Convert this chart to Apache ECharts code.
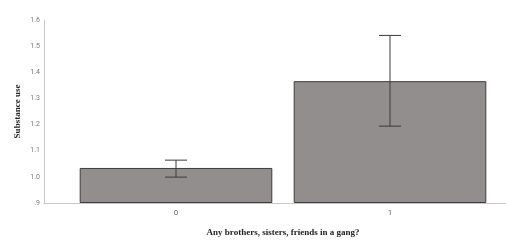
<!DOCTYPE html>
<html>
<head>
<meta charset="utf-8">
<script src="https://cdn.jsdelivr.net/npm/echarts@6/dist/echarts.min.js"></script>
<style>
  html, body { margin: 0; padding: 0; background: #fff; }
  #chart { width: 506px; height: 240px; }
</style>
</head>
<body>
<div id="chart"></div>
<script>
var categories = ['0', '1'];
var means = [1.034, 1.366];
var ciLow = [0.999, 1.194];
var ciHigh = [1.064, 1.541];

var chart = echarts.init(document.getElementById('chart'));

var errData = [];
for (var i = 0; i < categories.length; i++) {
  errData.push([i, ciLow[i], ciHigh[i]]);
}

var option = {
  backgroundColor: '#fff',
  animation: false,
  grid: [
    { left: 69, right: 9, top: 20, bottom: 37, outerBoundsMode: 'none' },
    { left: 44, right: 0, top: 20, bottom: 37, outerBoundsMode: 'none' }
  ],
  xAxis: [
    {
      type: 'category',
      data: categories,
      gridIndex: 0,
      axisLine: { show: false },
      axisTick: { show: false },
      axisLabel: { color: '#666', fontSize: 8, fontFamily: 'Roboto', margin: 6 },
      name: 'Any brothers, sisters, friends in a gang?',
      nameLocation: 'middle',
      nameGap: 25,
      nameTextStyle: { fontFamily: 'Liberation Serif', fontWeight: 'bold', fontSize: 9, color: '#222' }
    },
    {
      type: 'value',
      gridIndex: 1,
      min: 0, max: 1,
      axisLine: { show: true, onZero: false, lineStyle: { color: '#c8c8c8', width: 1 } },
      axisTick: { show: false },
      axisLabel: { show: false },
      splitLine: { show: false }
    }
  ],
  yAxis: [
    {
      type: 'value',
      gridIndex: 0,
      min: 0.9,
      max: 1.6,
      interval: 0.1,
      startValue: 0.9,
      offset: 25,
      axisLine: { show: true, lineStyle: { color: '#c8c8c8', width: 1 } },
      axisTick: { show: false },
      splitLine: { show: false },
      axisLabel: {
        color: '#777', fontSize: 7, fontFamily: 'Roboto', margin: 4,
        formatter: function (v) {
          var s = v.toFixed(1);
          return s.charAt(0) === '0' ? s.substring(1) : s;
        }
      },
      name: 'Substance use',
      nameLocation: 'middle',
      nameGap: 22,
      nameMoveOverlap: false,
      nameTextStyle: { fontFamily: 'Liberation Serif', fontWeight: 'bold', fontSize: 9, color: '#222' }
    },
    {
      type: 'value',
      gridIndex: 1,
      min: 0, max: 1,
      axisLine: { show: false },
      axisTick: { show: false },
      axisLabel: { show: false },
      splitLine: { show: false }
    }
  ],
  series: [
    {
      type: 'bar',
      xAxisIndex: 0,
      yAxisIndex: 0,
      data: means,
      barWidth: '90%',
      clip: false,
      itemStyle: { color: '#928e8d', borderColor: '#3c3c3c', borderWidth: 1 }
    },
    {
      type: 'custom',
      xAxisIndex: 0,
      yAxisIndex: 0,
      data: errData,
      renderItem: function (params, api) {
        var x = api.value(0);
        var lo = api.coord([x, api.value(1)]);
        var hi = api.coord([x, api.value(2)]);
        var half = 11;
        var st = { stroke: '#3a3a3a', lineWidth: 1 };
        return {
          type: 'group',
          children: [
            { type: 'line', shape: { x1: hi[0], y1: hi[1], x2: lo[0], y2: lo[1] }, style: st },
            { type: 'line', shape: { x1: hi[0] - half, y1: hi[1], x2: hi[0] + half, y2: hi[1] }, style: st },
            { type: 'line', shape: { x1: lo[0] - half, y1: lo[1], x2: lo[0] + half, y2: lo[1] }, style: st }
          ]
        };
      },
      z: 5
    }
  ]
};

chart.setOption(option);
</script>
</body>
</html>
